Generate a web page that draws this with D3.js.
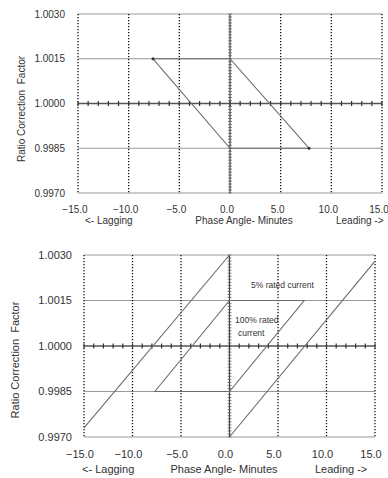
<!DOCTYPE html>
<html>
<head>
<meta charset="utf-8">
<script src="https://cdn.jsdelivr.net/npm/d3@7"></script>
<style>
  body { margin: 0; background: #fff; }
  svg { display: block; font-family: Arial, "Liberation Sans", sans-serif; }
</style>
</head>
<body>
<svg id="chart" width="388" height="478"></svg>
<script>
// axis values
var xTicks = [-15, -10, -5, 0, 5, 10, 15];
var yTicks = [0.9970, 0.9985, 1.0000, 1.0015, 1.0030];

// top chart: one parallelogram
var topShape = [
  {x: -7.6, y: 1.0015}, {x: 0, y: 1.0015},
  {x: 7.8, y: 0.9985}, {x: 0, y: 0.9985}
];

// bottom chart: 100% rated current (inner) and 5% rated current (outer)
var innerShape = [
  {x: -7.7, y: 0.9985}, {x: 0, y: 1.0015},
  {x: 7.7, y: 1.0015}, {x: 0, y: 0.9985}
];
var outerLeft = [{x: -15, y: 0.9973}, {x: 0, y: 1.0030}];
var outerRight = [{x: 0, y: 0.9970}, {x: 15, y: 1.0028}];

var svg = d3.select("#chart");

function panel(opt) {
  var g = svg.append("g");
  var x = d3.scaleLinear().domain([-15, 15]).range([opt.left, opt.right]);
  var y = d3.scaleLinear().domain([0.9970, 1.0030]).range([opt.bottom, opt.top]);

  // horizontal grid
  g.selectAll(".hgrid")
    .data(yTicks.filter(d => d !== 1.0000))
    .enter().append("line")
    .attr("x1", x(-15)).attr("x2", x(15))
    .attr("y1", d => y(d)).attr("y2", d => y(d))
    .attr("stroke", "#999").attr("stroke-width", 1.2);

  // vertical dotted grid
  g.selectAll(".vgrid")
    .data(xTicks.filter(d => d !== 0))
    .enter().append("line")
    .attr("x1", d => x(d)).attr("x2", d => x(d))
    .attr("y1", y(1.0030)).attr("y2", y(0.9970))
    .attr("stroke", "#111").attr("stroke-width", 1.3)
    .attr("stroke-dasharray", "1.3,1.7");

  // x = 0 line with dense ticks
  g.selectAll(".yminor")
    .data(d3.range(0, 61).map(i => 0.9970 + i * 0.0001))
    .enter().append("line")
    .attr("x1", x(0) - 2).attr("x2", x(0) + 2)
    .attr("y1", d => y(d)).attr("y2", d => y(d))
    .attr("stroke", "#888").attr("stroke-width", 1);
  g.append("line")
    .attr("x1", x(0)).attr("x2", x(0))
    .attr("y1", y(1.0030)).attr("y2", y(0.9970))
    .attr("stroke", "#444").attr("stroke-width", 1.2);

  // y = 1.0000 line with ticks every minute
  g.append("line")
    .attr("x1", x(-15)).attr("x2", x(15))
    .attr("y1", y(1.0)).attr("y2", y(1.0))
    .attr("stroke", "#555").attr("stroke-width", 1.3);
  g.selectAll(".xminor")
    .data(d3.range(-15, 16))
    .enter().append("line")
    .attr("x1", d => x(d)).attr("x2", d => x(d))
    .attr("y1", y(1.0) - 2.5).attr("y2", y(1.0) + 2.5)
    .attr("stroke", "#333").attr("stroke-width", 1.2);

  // y tick labels
  g.selectAll(".ylab")
    .data(yTicks)
    .enter().append("text")
    .attr("x", opt.left - opt.ylabGap)
    .attr("y", d => y(d))
    .attr("dy", "0.35em")
    .attr("text-anchor", "end")
    .attr("font-size", opt.fs)
    .attr("fill", "#333")
    .text(d => d3.format(".4f")(d));

  // x tick labels
  g.selectAll(".xlab")
    .data(xTicks)
    .enter().append("text")
    .attr("x", d => x(d) - opt.xlabShift)
    .attr("y", opt.xlabY)
    .attr("text-anchor", "middle")
    .attr("font-size", opt.fs)
    .attr("fill", "#333")
    .text(d => d3.format(".1f")(d));

  // axis captions
  var cap = g.append("g").attr("font-size", opt.fs).attr("fill", "#333");
  cap.append("text").attr("x", opt.lagX).attr("y", opt.capY).text("<-  Lagging");
  cap.append("text").attr("x", opt.phaseX).attr("y", opt.capY)
    .attr("text-anchor", "middle").text("Phase Angle- Minutes");
  cap.append("text").attr("x", opt.leadX).attr("y", opt.capY).text("Leading  ->");

  g.append("text")
    .attr("transform", "translate(" + opt.titleX + "," + opt.titleY + ") rotate(-90)")
    .attr("text-anchor", "middle")
    .attr("font-size", opt.fs)
    .attr("fill", "#333")
    .style("white-space", "pre")
    .text("Ratio Correction  Factor");

  return {g: g, x: x, y: y};
}

var line = function(p) {
  return d3.line().x(d => p.x(d.x)).y(d => p.y(d.y));
};

function drawPath(p, pts, closed) {
  p.g.append("path")
    .attr("d", line(p)(pts) + (closed ? "Z" : ""))
    .attr("fill", "none")
    .attr("stroke", "#6a6a6a")
    .attr("stroke-width", 1.1);
}

// top panel
var p1 = panel({left: 78, right: 382, top: 14, bottom: 193, fs: 10,
  ylabGap: 13, xlabY: 213, xlabShift: 3, capY: 224,
  lagX: 85, phaseX: 244, leadX: 336, titleX: 25, titleY: 109});
drawPath(p1, topShape, true);
p1.g.selectAll(".end")
  .data([topShape[0], topShape[2]])
  .enter().append("circle")
  .attr("cx", d => p1.x(d.x)).attr("cy", d => p1.y(d.y))
  .attr("r", 1.5).attr("fill", "#333");

// bottom panel
var p2 = panel({left: 84, right: 375, top: 255, bottom: 437, fs: 11,
  ylabGap: 12, xlabY: 458, xlabShift: 4, capY: 473,
  lagX: 82, phaseX: 224, leadX: 315, titleX: 19, titleY: 360});
drawPath(p2, innerShape, true);
drawPath(p2, outerLeft, false);
drawPath(p2, outerRight, false);

var notes = p2.g.append("g").attr("font-size", 8.5).attr("fill", "#333");
notes.append("text").attr("x", 251).attr("y", 288).text("5% rated current");
notes.append("text").attr("x", 235).attr("y", 323).text("100% rated");
notes.append("text").attr("x", 238).attr("y", 336).text("current");
</script>
</body>
</html>
